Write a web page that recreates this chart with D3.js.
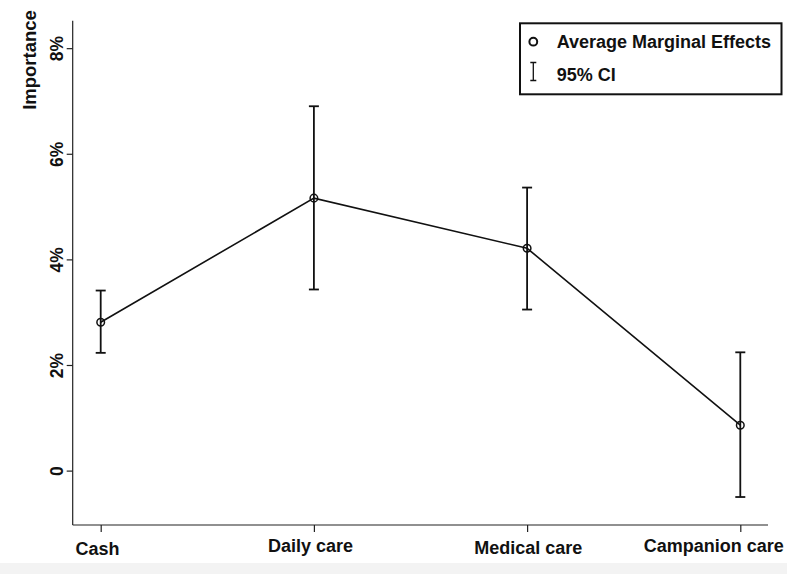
<!DOCTYPE html>
<html>
<head>
<meta charset="utf-8">
<script src="https://cdn.jsdelivr.net/npm/d3@7"></script>
<style>
  body { margin: 0; background: #fff; }
  text { font-family: "Liberation Sans", Arial, sans-serif; font-weight: bold; fill: #111; }
</style>
</head>
<body>
<script>
var categories = ['Cash', 'Daily care', 'Medical care', 'Campanion care'],
    effects = [2.81, 5.16, 4.21, 0.86],
    ciLow = [2.23, 3.43, 3.05, -0.50],
    ciHigh = [3.41, 6.90, 5.36, 2.24],
    yTicks = [0, 2, 4, 6, 8],
    yTickLabels = ['0', '2%', '4%', '6%', '8%'],
    width = 787, height = 574, x, y, svg, xAxis, yAxis, line;

x = d3.scalePoint()
      .domain(categories)
      .range([100.7, 740.3]);

y = d3.scaleLinear()
      .domain([-1.03, 8.52])
      .range([525, 20.7]);

svg = d3.select("body").append("svg").attr("width", width).attr("height", height);

// faint strip at the bottom of the screenshot
svg.append("rect").attr("x", 0).attr("y", 563).attr("width", width).attr("height", 11).attr("fill", "#f3f3f3");

// y axis
yAxis = d3.axisLeft(y).tickValues(yTicks).tickSize(6).tickPadding(8)
          .tickFormat(function (d, i) { return yTickLabels[i]; });
var gy = svg.append("g").attr("transform", "translate(72.7,0)").call(yAxis);
gy.select(".domain").attr("d", "M0," + y.range()[0] + "V" + y.range()[1]).attr("stroke", "#222").attr("stroke-width", 1.2);
gy.selectAll(".tick line").attr("stroke", "#222").attr("stroke-width", 1.2);
gy.selectAll(".tick text")
  .attr("transform", "rotate(-90)")
  .attr("x", 0).attr("y", -9.7)
  .attr("dy", "0")
  .style("text-anchor", "middle")
  .style("font-size", "17.5px");

svg.append("text")
   .attr("transform", "translate(35.5,60) rotate(-90)")
   .attr("text-anchor", "middle")
   .style("font-size", "18.5px")
   .text("Importance");

// x axis
xAxis = d3.axisBottom(x).tickSize(7).tickPadding(9);
var gx = svg.append("g").attr("transform", "translate(0,525)").call(xAxis);
gx.select(".domain").attr("d", "M72.7,0H768").attr("stroke", "#222").attr("stroke-width", 1.2);
gx.selectAll(".tick line").attr("stroke", "#222").attr("stroke-width", 1.2);
gx.selectAll(".tick text")
  .style("font-size", "18px")
  .attr("dy", "0")
  .attr("dx", function (d, i) { return [-3.7, -3.8, 0.7, -27][i]; })
  .attr("y", function (d, i) { return [30, 27, 29.3, 26.7][i]; });

// error bars
var bars = svg.append("g").attr("stroke", "#111").attr("stroke-width", 1.8).attr("fill", "none");
categories.forEach(function (c, i) {
  var cx = x(c);
  bars.append("line").attr("x1", cx).attr("x2", cx).attr("y1", y(ciLow[i])).attr("y2", y(ciHigh[i]));
  bars.append("line").attr("x1", cx - 5).attr("x2", cx + 5).attr("y1", y(ciLow[i])).attr("y2", y(ciLow[i]));
  bars.append("line").attr("x1", cx - 5).attr("x2", cx + 5).attr("y1", y(ciHigh[i])).attr("y2", y(ciHigh[i]));
});

// connecting line
line = d3.line()
         .x(function (d, i) { return x(categories[i]); })
         .y(function (d) { return y(d); });
svg.append("path").attr("d", line(effects)).attr("fill", "none").attr("stroke", "#111").attr("stroke-width", 1.6);

svg.append("g").selectAll("circle").data(effects).enter().append("circle")
   .attr("cx", function (d, i) { return x(categories[i]); })
   .attr("cy", function (d) { return y(d); })
   .attr("r", 3.8)
   .attr("fill", "none")
   .attr("stroke", "#111")
   .attr("stroke-width", 1.5);

// legend
var lg = svg.append("g");
lg.append("rect").attr("x", 520).attr("y", 23.3).attr("width", 261.5).attr("height", 71)
  .attr("fill", "#fff").attr("stroke", "#111").attr("stroke-width", 2);
lg.append("circle").attr("cx", 533.3).attr("cy", 41.7).attr("r", 3.9)
  .attr("fill", "none").attr("stroke", "#111").attr("stroke-width", 2);
lg.append("text").attr("x", 556.7).attr("y", 47.7).style("font-size", "18px").text("Average Marginal Effects");
lg.append("path").attr("d", "M530.3,62.5H536.3M533.3,62.5V80.5M530.3,80.5H536.3").attr("stroke", "#111").attr("stroke-width", 1.3).attr("fill", "none");
lg.append("text").attr("x", 556.7).attr("y", 80.7).style("font-size", "18px").text("95% CI");
</script>
</body>
</html>
